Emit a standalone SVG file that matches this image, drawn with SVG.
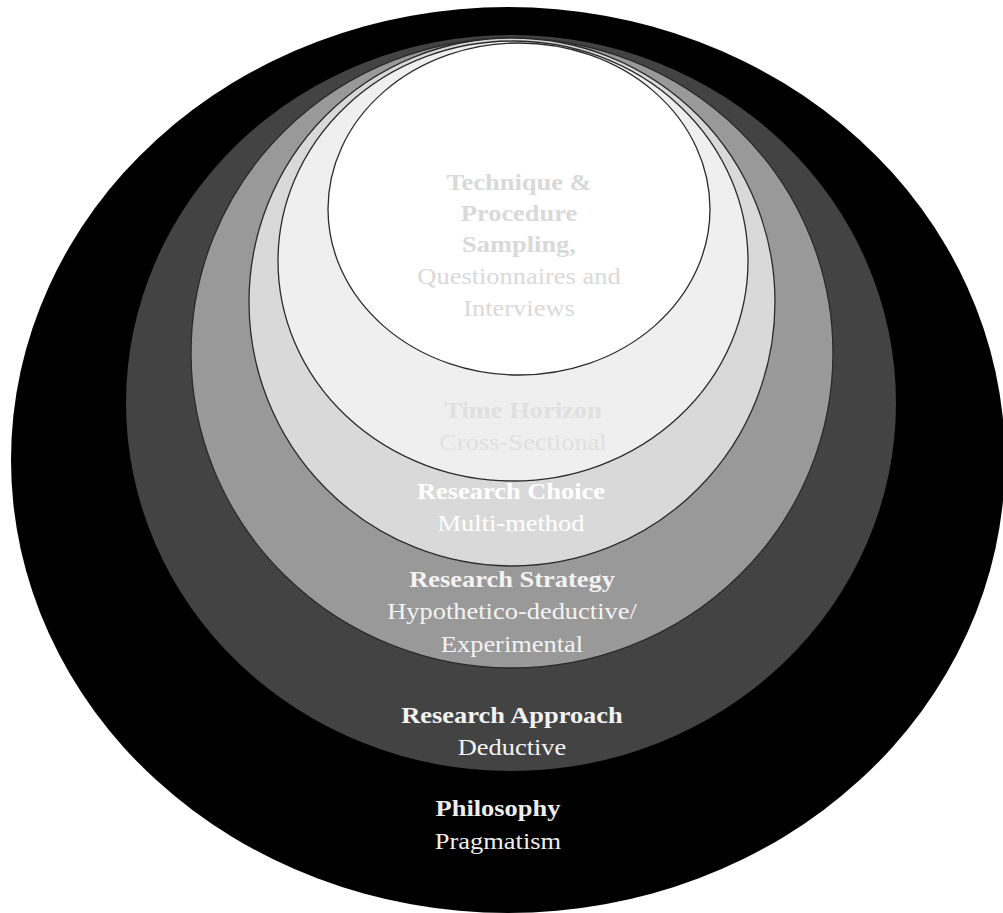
<svg xmlns="http://www.w3.org/2000/svg" width="1003" height="913" viewBox="0 0 1003 913">
  <style>
    .ring { stroke: #2b2b2b; stroke-width: 1.3; }
    .lbl { font-family: "Liberation Serif", "Times New Roman", serif; font-size: 23px; text-anchor: middle; }
    .head { font-weight: bold; }
  </style>
  <rect width="1003" height="913" fill="#ffffff"/>

  <!-- layers, outermost first -->
  <g id="philosophy">
    <ellipse cx="508" cy="460" rx="497" ry="453" fill="#000000"/>
  </g>
  <g id="approach">
    <ellipse cx="511" cy="403" rx="385" ry="368" fill="#434343"/>
  </g>
  <g id="strategy">
    <ellipse class="ring" cx="512" cy="353" rx="321" ry="315" fill="#999999"/>
  </g>
  <g id="choice">
    <ellipse class="ring" cx="512" cy="302" rx="263" ry="264" fill="#d9d9d9"/>
  </g>
  <g id="time-horizon">
    <ellipse class="ring" cx="513" cy="261" rx="235" ry="220" fill="#efefef"/>
  </g>
  <g id="technique">
    <ellipse class="ring" cx="519" cy="209" rx="191" ry="166" fill="#ffffff"/>
  </g>

  <!-- labels: set slightly wide, centred on each layer -->
  <g id="labels">
    <g fill="#d9d9d9" transform="translate(519 0) scale(1.15 1)">
      <text class="lbl head" x="0" y="190">Technique &amp;</text>
      <text class="lbl head" x="0" y="221">Procedure</text>
      <text class="lbl head" x="0" y="252">Sampling,</text>
      <text class="lbl" x="0" y="284">Questionnaires and</text>
      <text class="lbl" x="0" y="316">Interviews</text>
    </g>
    <g fill="#e0e0e0" transform="translate(523 0) scale(1.15 1)">
      <text class="lbl head" x="0" y="418">Time Horizon</text>
      <text class="lbl" x="0" y="450">Cross-Sectional</text>
    </g>
    <g fill="#ffffff" transform="translate(511 0) scale(1.15 1)">
      <text class="lbl head" x="0" y="499">Research Choice</text>
      <text class="lbl" x="0" y="531">Multi-method</text>
    </g>
    <g fill="#f3f3f3" transform="translate(512 0) scale(1.15 1)">
      <text class="lbl head" x="0" y="587">Research Strategy</text>
      <text class="lbl" x="0" y="619">Hypothetico-deductive/</text>
      <text class="lbl" x="0" y="652">Experimental</text>
    </g>
    <g fill="#f3f3f3" transform="translate(512 0) scale(1.15 1)">
      <text class="lbl head" x="0" y="723">Research Approach</text>
      <text class="lbl" x="0" y="755">Deductive</text>
    </g>
    <g fill="#eeeeee" transform="translate(498 0) scale(1.15 1)">
      <text class="lbl head" x="0" y="816">Philosophy</text>
      <text class="lbl" x="0" y="849">Pragmatism</text>
    </g>
  </g>
</svg>
